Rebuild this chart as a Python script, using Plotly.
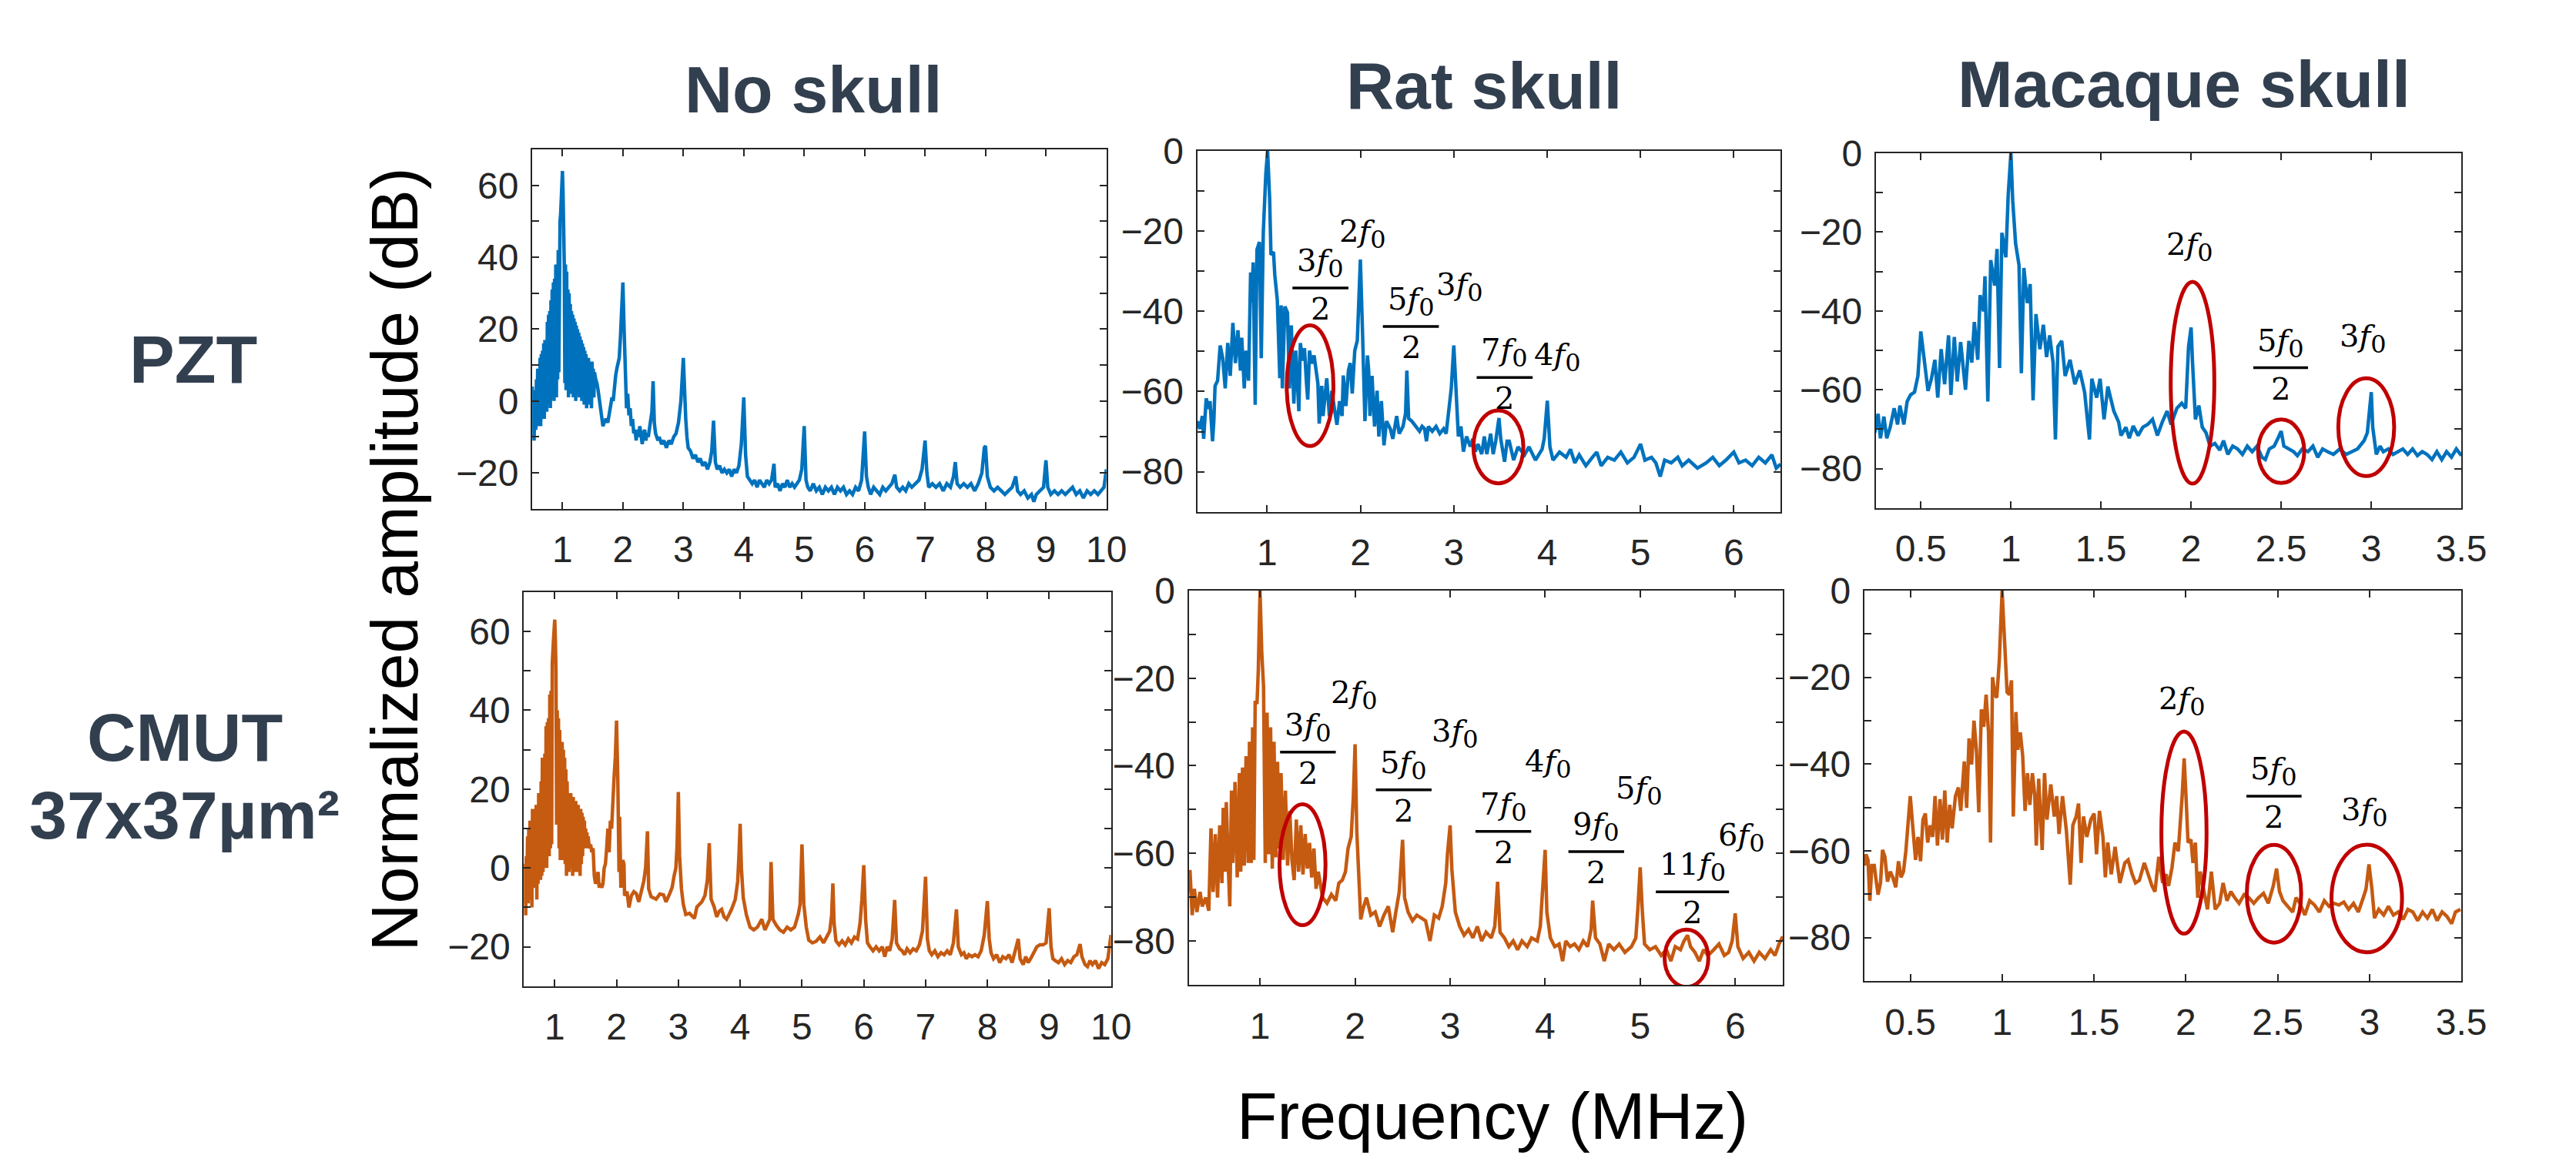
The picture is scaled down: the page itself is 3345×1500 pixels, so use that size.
import plotly.graph_objects as go

# ---------------- data ----------------
# Panel A: PZT, no skull
A_x = [0.50,0.51,0.52,0.53,0.54,
0.55,0.56,0.57,0.58,0.59,0.60,0.61,0.62,0.63,0.64,
0.65,0.66,0.67,0.68,0.69,0.70,0.71,0.72,0.73,0.74,
0.75,0.76,0.77,0.78,0.79,0.80,0.81,0.82,0.83,0.84,
0.85,0.86,0.87,0.88,0.89,0.90,0.91,0.92,0.93,0.94,
0.95,0.96,0.97,0.98,1.00,1.01,1.02,1.03,1.04,1.05,
1.06,1.07,1.08,1.09,1.10,1.11,1.12,1.13,1.14,1.15,
1.16,1.17,1.18,1.19,1.20,1.21,1.22,1.23,1.24,1.25,
1.26,1.27,1.28,1.29,1.30,1.31,1.32,1.33,1.34,1.35,
1.36,1.37,1.38,1.39,1.40,1.41,1.42,1.43,1.44,1.45,
1.46,1.47,1.48,1.49,1.50,1.51,1.52,1.53,1.55,1.57,
1.59,1.61,1.63,1.65,1.67,1.69,1.72,1.75,1.78,1.80,
1.82,1.84,1.86,1.88,1.90,1.92,1.94,1.96,1.98,2.00,
2.02,2.04,2.06,2.08,2.10,2.12,2.14,2.16,2.18,2.20,
2.22,2.24,2.26,2.28,2.30,2.32,2.34,2.36,2.38,2.40,
2.42,2.44,2.46,2.48,2.50,2.52,2.54,2.56,2.58,2.60,
2.64,2.68,2.72,2.76,2.80,2.84,2.88,2.92,2.96,3.00,
3.02,3.04,3.06,3.08,3.12,3.16,3.20,3.24,3.28,3.32,
3.36,3.40,3.44,3.47,3.50,3.53,3.56,3.60,3.64,3.68,
3.72,3.76,3.80,3.84,3.88,3.92,3.96,4.00,4.03,4.06,
4.10,4.14,4.18,4.22,4.26,4.30,4.34,4.38,4.42,4.46,
4.50,4.52,4.56,4.60,4.64,4.68,4.72,4.76,4.80,4.84,
4.88,4.92,4.96,5.00,5.03,5.06,5.10,5.15,5.20,5.25,
5.30,5.35,5.40,5.45,5.50,5.55,5.60,5.65,5.70,5.75,
5.80,5.85,5.90,5.95,6.00,6.03,6.06,6.10,6.15,6.20,
6.25,6.30,6.35,6.40,6.45,6.50,6.53,6.58,6.63,6.68,
6.73,6.78,6.84,6.90,6.95,7.00,7.03,7.06,7.12,7.18,
7.24,7.30,7.36,7.42,7.47,7.50,7.53,7.58,7.64,7.70,
7.76,7.82,7.88,7.94,7.98,8.00,8.03,8.08,8.14,8.20,
8.26,8.32,8.38,8.44,8.48,8.50,8.53,8.58,8.64,8.70,
8.76,8.80,8.84,8.90,8.96,9.00,9.03,9.08,9.14,9.20,
9.26,9.32,9.38,9.44,9.50,9.56,9.62,9.68,9.74,9.80,
9.86,9.92,9.96,10.0]
A_y = [4,-3,2,-11,-4,
3,-8,6,-6,9,-7,8,-4,12,-7,
13,-5,14,-3,16,-5,17,-2,16,-3,
22,-1,24,0,25,-2,28,1,31,2,
33,0,34,4,38,1,38,6,42,8,
40,50,52,58,64,58,50,38,5,38,
3,36,5,31,1,30,3,27,2,25,
4,24,1,23,2,22,0,21,2,20,
3,19,1,18,2,17,0,16,1,15,
-1,14,1,13,-2,12,0,12,-1,11,
2,10,-2,11,2,9,1,8,6,5,
3,0,-3,-5,-7,-6,-5,-6,-3,-1,
1,0,4,7,9,11,12,18,25,33,
20,6,-2,2,-4,-2,-7,-5,-9,-8,
-11,-8,-10,-7,-9,-12,-9,-8,-11,-9,
-10,-8,-6,-3,5.5,-6,-9,-10,-11,-10,
-12,-11,-13,-11,-12,-10,-9,-6,0,12,
2,-5,-10,-13,-14,-16,-15,-17,-16,-18,
-17,-19,-17,-14,-5.5,-17,-19,-18,-20,-19,
-20,-19,-21,-19,-20,-18,-12,1,-15,-21,
-22,-23,-22,-24,-22,-23,-24,-22,-23,-22,
-17.5,-24,-23,-25,-23,-24,-22,-24,-23,-24,
-23,-22,-19,-7,-22,-24,-25,-23,-25,-24,
-26,-24,-25,-24,-26,-24,-25,-24,-26,-25,
-26,-24,-25,-22,-8.5,-21,-24,-26,-24,-25,
-26,-24,-25,-24,-23,-20.5,-24,-25,-24,-25,
-23,-24,-23,-22,-19,-11,-20,-24,-23,-24,
-23,-25,-23,-24,-21,-17,-23,-24,-23,-24,
-23,-25,-23,-20,-13,-12.5,-21,-24,-25,-24,
-25,-26,-25,-24,-22,-21,-25,-26,-25,-27,
-26,-28,-26,-25,-24,-16.5,-24,-26,-25,-26,
-25,-26,-25,-24,-26,-25,-27,-25,-26,-25,
-26,-25,-24,-19]

# Panel B: PZT, rat skull
B_x = [0.252,0.279,0.306,0.320,0.347,0.374,0.388,0.415,0.429,0.442,
0.469,0.497,0.524,0.551,0.578,0.605,0.633,0.660,0.687,0.714,
0.728,0.755,0.774,0.801,0.823,0.837,0.850,0.872,0.891,0.918,
0.937,0.959,0.986,1.005,1.027,1.041,1.068,1.082,1.109,1.136,
1.150,1.163,1.190,1.218,1.239,1.259,1.286,1.307,1.340,1.356,
1.381,1.400,1.422,1.435,1.454,1.476,1.503,1.525,1.544,1.558,
1.585,1.599,1.639,1.667,1.694,1.721,1.748,1.776,1.803,1.816,
1.844,1.871,1.890,1.912,1.939,1.966,1.999,2.020,2.048,2.075,
2.088,2.102,2.124,2.151,2.178,2.197,2.224,2.252,2.279,2.320,
2.347,2.388,2.415,2.456,2.483,2.497,2.516,2.551,2.592,2.633,
2.660,2.687,2.707,2.728,2.769,2.810,2.850,2.891,2.918,2.946,
2.973,3.000,3.022,3.049,3.076,3.103,3.136,3.177,3.204,3.231,
3.259,3.299,3.327,3.354,3.395,3.422,3.449,3.484,3.503,3.544,
3.571,3.594,3.641,3.688,3.758,3.805,3.875,3.946,3.969,4.002,
4.030,4.063,4.133,4.204,4.250,4.297,4.344,4.415,4.485,4.532,
4.579,4.649,4.720,4.790,4.860,4.931,5.001,5.048,5.118,5.165,
5.212,5.259,5.329,5.400,5.447,5.517,5.611,5.704,5.775,5.845,
5.916,6.000,6.056,6.127,6.197,6.267,6.338,6.408,6.455,6.502]
B_y = [-67.4,-69.3,-66.1,-71.8,-61.7,-64.3,-62.4,-72.4,-67.4,-58.6,
-57.3,-48.5,-51.7,-59.2,-47.9,-56.1,-42.9,-52.9,-44.7,-54.8,
-46.6,-59.2,-49.8,-57.3,-30.3,-37.8,-27.8,-63.3,-24.6,-22.7,
-51.7,-20.2,-5.7,0,-12,-25.9,-25.2,-30.9,-37.2,-56.7,
-38.5,-59.2,-38.8,-40.3,-59.2,-43.5,-63,-49.8,-64.9,-47.9,
-52.3,-49.2,-58,-62,-49.8,-53,-51,-54.8,-58,-68,
-58.6,-66.1,-56.7,-66.1,-59.8,-64.3,-68.3,-62.4,-66.1,-56,
-63.6,-54.8,-52.9,-60.5,-49.8,-47.3,-27.1,-43.5,-67.4,-51,
-54.8,-66.1,-56.1,-68.7,-59.8,-71.2,-62.4,-73.4,-67.4,-69.3,
-71.8,-66.1,-70.5,-68.7,-65.5,-54.8,-66.7,-67.4,-68.7,-69.9,
-68.7,-69.3,-72.4,-68.7,-69.9,-68.7,-70.5,-69.3,-70.5,-64.9,
-59.2,-48.5,-59.2,-71.2,-68.7,-75,-71.2,-73.7,-71.8,-75,
-73.1,-75.6,-71.2,-75.6,-70.5,-75.6,-72.4,-66.6,-71.8,-77.5,
-72.4,-72.4,-77.1,-73.8,-75.8,-73.8,-77.1,-74.4,-71.7,-62.3,
-73.8,-77.1,-75.1,-76.4,-74.4,-77.8,-75.8,-78.5,-76.4,-75.1,
-78.5,-76.4,-77.1,-75.1,-77.8,-76.4,-73.1,-77.1,-76.4,-77.8,
-81.2,-77.1,-77.8,-76.4,-78.5,-77.1,-79.1,-77.8,-76.4,-78.5,
-77.1,-75.1,-77.8,-77.1,-78.5,-76.4,-77.8,-75.8,-79.1,-78.1]

# Panel C: PZT, macaque skull
C_x = [0.244,0.263,0.276,0.295,0.311,0.330,0.352,0.371,0.384,0.406,
0.424,0.443,0.465,0.484,0.500,0.519,0.540,0.559,0.578,0.594,
0.613,0.632,0.654,0.667,0.686,0.702,0.721,0.748,0.767,0.783,
0.797,0.816,0.829,0.848,0.856,0.872,0.888,0.910,0.923,0.937,
0.950,0.972,0.985,1.000,1.010,1.026,1.045,1.058,1.072,1.091,
1.107,1.123,1.139,1.161,1.180,1.198,1.215,1.234,1.247,1.261,
1.282,1.301,1.328,1.355,1.382,1.409,1.436,1.449,1.476,1.495,
1.517,1.538,1.557,1.571,1.598,1.611,1.638,1.657,1.679,1.706,
1.732,1.759,1.786,1.813,1.840,1.867,1.889,1.921,1.948,1.970,
1.986,2.000,2.008,2.024,2.043,2.062,2.083,2.105,2.132,2.159,
2.180,2.204,2.231,2.258,2.285,2.312,2.339,2.366,2.393,2.412,
2.434,2.461,2.482,2.500,2.515,2.542,2.569,2.590,2.617,2.649,
2.676,2.703,2.730,2.757,2.790,2.825,2.860,2.893,2.924,2.960,
2.978,3.000,3.008,3.028,3.049,3.067,3.094,3.121,3.148,3.175,
3.202,3.229,3.256,3.283,3.310,3.337,3.364,3.391,3.418,3.445,
3.472,3.500]
C_y = [-70.9,-66.1,-72.3,-66.8,-72.3,-69.5,-64.7,-68.8,-64,-68.8,
-63,-61.3,-60.6,-56.5,-45.2,-51.7,-60.3,-57.2,-52.4,-62,
-49.7,-58.6,-46.2,-61.3,-46.6,-57.9,-47.9,-60,-47.6,-53.1,
-42.8,-52.4,-36,-40.1,-31.2,-63,-27.1,-33.6,-24.3,-54.5,
-20.2,-26.4,-10.6,0,-12,-22.9,-28.4,-55.8,-29.1,-38,
-33.2,-62.7,-40.8,-49.7,-43.5,-51.7,-46.2,-53.1,-72.6,-49,
-47.6,-56.5,-52.4,-58.6,-55.1,-60.6,-72.6,-57.2,-62,-57.2,
-67.5,-59.2,-62.7,-65.4,-68.2,-71.6,-69.5,-72.3,-69.2,-71.6,
-69.5,-68.8,-67.5,-71.6,-68.2,-65.4,-68.8,-64.7,-63.4,-64.7,
-49,-44.2,-53.1,-67.5,-64,-69.5,-70.9,-74.3,-73.6,-75.3,
-72.9,-76.4,-74.3,-75,-76.4,-74.3,-75.7,-74.3,-77.1,-77.7,
-75,-74.3,-72.3,-70.5,-74.3,-75,-75.7,-76.7,-75,-75.7,
-74.3,-77.1,-75,-75.7,-76.4,-75,-76.4,-75.7,-75,-72.9,
-70.9,-60.6,-69.5,-76.4,-74.3,-75.7,-75,-76.4,-75.7,-75,
-76.4,-75,-76.7,-75.7,-76.4,-77.7,-75.7,-77.7,-75.7,-77.1,
-75,-76.7]

# Panel D: CMUT, no skull
D_x = [0.49,0.50,0.51,0.52,0.53,0.54,0.55,0.56,0.57,0.58,
0.59,0.60,0.61,0.62,0.63,0.64,0.65,0.66,0.67,0.68,
0.69,0.70,0.71,0.72,0.73,0.74,0.75,0.76,0.77,0.78,
0.79,0.80,0.81,0.82,0.83,0.84,0.85,0.86,0.87,0.88,
0.89,0.90,0.91,0.92,0.93,0.94,0.95,0.96,0.98,1.00,
1.01,1.02,1.03,1.04,1.05,1.06,1.07,1.08,1.09,1.10,
1.11,1.12,1.13,1.14,1.15,1.16,1.17,1.18,1.19,1.20,
1.21,1.22,1.23,1.24,1.25,1.26,1.27,1.28,1.29,1.30,
1.31,1.32,1.33,1.34,1.35,1.36,1.37,1.38,1.39,1.40,
1.41,1.42,1.43,1.44,1.45,1.46,1.47,1.48,1.49,1.50,
1.51,1.52,1.53,1.54,1.56,1.58,1.60,1.62,1.64,1.66,
1.68,1.70,1.72,1.74,1.76,1.78,1.80,1.82,1.84,1.86,
1.88,1.90,1.92,1.94,1.96,1.98,2.00,2.02,2.04,2.05,
2.07,2.10,2.12,2.13,2.17,2.20,2.24,2.28,2.32,2.36,
2.40,2.44,2.47,2.50,2.52,2.56,2.64,2.70,2.76,2.80,
2.86,2.90,2.93,2.96,2.98,3.00,3.02,3.05,3.08,3.12,
3.18,3.26,3.30,3.34,3.38,3.43,3.47,3.50,3.53,3.58,
3.62,3.66,3.70,3.74,3.78,3.82,3.86,3.92,3.96,3.98,
4.00,4.02,4.05,4.10,4.16,4.22,4.28,4.35,4.40,4.44,
4.48,4.50,4.53,4.58,4.64,4.70,4.76,4.82,4.88,4.94,
4.97,5.00,5.03,5.07,5.11,5.17,5.23,5.29,5.35,5.40,
5.45,5.48,5.50,5.52,5.55,5.60,5.65,5.70,5.75,5.80,
5.85,5.90,5.94,5.97,6.00,6.03,6.06,6.10,6.15,6.20,
6.25,6.30,6.34,6.38,6.42,6.46,6.50,6.53,6.58,6.62,
6.66,6.70,6.75,6.80,6.85,6.90,6.95,7.00,7.03,7.06,
7.10,7.15,7.20,7.25,7.30,7.35,7.40,7.45,7.50,7.53,
7.58,7.62,7.66,7.70,7.75,7.80,7.85,7.90,7.95,8.00,
8.03,8.06,8.10,8.15,8.20,8.25,8.30,8.35,8.40,8.45,
8.50,8.53,8.58,8.62,8.66,8.70,8.75,8.80,8.85,8.90,
8.95,9.00,9.03,9.06,9.10,9.15,9.20,9.25,9.30,9.35,
9.40,9.45,9.50,9.53,9.58,9.62,9.66,9.70,9.75,9.80,
9.85,9.90,9.95,9.97,10.0]
D_y = [-4,-4,-9,1,-12,3,-6,8,-9,10,
-8,12,-6,12,-10,15,-4,15,-5,15,
-3,16,-8,16,-4,19,-2,19,-3,22,
-2,28,-1,28,0,29,1,36,0,37,
3,38,3,44,5,45,6,52,58,63,
58,50,11,40,12,38,5,35,2,32,
6,32,2,30,4,28,1,25,-2,22,
2,19,-1,19,1,19,0,18,-2,18,
1,17,-1,17,2,16,-1,16,0,15,
-2,15,1,14,3,13,5,12,5,10,
6,9,5,8,5,6,4,5,-2,-4,
-3,-1,-5,-4,-5,-4,0,1,5,10,
4,12,10,18,23,28,37.4,23,-1,13,
-5,2,1,-7,-6,-10,-7,-6,-6.5,-8.6,
-6,-3.4,0,9.3,-5.3,-7.3,-7.9,-6.6,-6.8,-8.6,
-6.5,-4.9,-2.1,0,6,19.3,3,-5.3,-9.2,-11.8,
-11.5,-12.8,-9.9,-9.2,-8.6,-7,-3,6.3,-7.9,-9.9,
-12.4,-11,-10.5,-12.4,-13,-11.8,-10.5,-8,-3.4,3,
11.2,0,-7.5,-11.8,-15,-15.7,-15,-13,-15.7,-14.4,
-13,1.5,-13,-14.4,-15.7,-16.3,-15,-15.7,-15,-11.8,
-9.2,6,-9.2,-15,-18.3,-19,-18.6,-17.5,-19,-17.5,
-16,-12,-3.9,-14,-18.5,-19.5,-18.5,-19.5,-18,-19,
-17.5,-18,-14,-8,0.7,-13,-19,-20,-21,-20,
-21,-20,-22.5,-20,-21,-18,-8.1,-19,-20.5,-21,
-22,-20.5,-21.5,-20.5,-21,-19.5,-16,-2.2,-18,-21,
-22,-21,-22.5,-21.5,-22,-21,-22,-19,-10.5,-20,
-22,-21.5,-23,-22,-22.5,-22,-22.5,-21,-17,-8.4,
-18,-21.5,-23,-22,-24,-22.5,-23,-22,-24,-21,
-18,-23,-24.5,-22.5,-24,-23,-21.5,-20,-19.5,-19.5,
-19,-10.2,-20,-23,-23.5,-24,-23,-24.5,-23.5,-24,
-22.5,-22,-19.3,-22.5,-24.5,-25,-23.5,-24.5,-23.5,-25.5,
-24,-24.5,-23,-21,-17]

# Panel E: CMUT, rat skull
E_x = [0.244,0.263,0.286,0.309,0.336,0.369,0.392,0.429,0.461,0.484,
0.507,0.530,0.553,0.576,0.599,0.613,0.631,0.645,0.668,0.682,
0.700,0.714,0.737,0.760,0.783,0.797,0.816,0.834,0.853,0.876,
0.889,0.908,0.922,0.935,0.949,0.968,0.982,1.000,1.018,1.037,
1.055,1.074,1.092,1.111,1.129,1.147,1.166,1.184,1.203,1.221,
1.244,1.267,1.290,1.313,1.336,1.359,1.382,1.406,1.429,1.452,
1.475,1.498,1.521,1.544,1.567,1.590,1.613,1.659,1.705,1.751,
1.797,1.829,1.866,1.899,1.926,1.959,1.982,2.000,2.018,2.041,
2.060,2.083,2.120,2.166,2.212,2.258,2.304,2.350,2.396,2.429,
2.465,2.500,2.521,2.558,2.604,2.650,2.696,2.742,2.788,2.834,
2.880,2.917,2.954,2.972,3.000,3.018,3.055,3.101,3.147,3.194,
3.240,3.286,3.332,3.378,3.433,3.470,3.500,3.525,3.571,3.618,
3.664,3.710,3.756,3.811,3.857,3.917,3.949,3.968,4.000,4.018,
4.055,4.101,4.147,4.184,4.217,4.263,4.309,4.355,4.401,4.447,
4.484,4.500,4.530,4.576,4.622,4.668,4.724,4.779,4.839,4.908,
4.954,4.977,5.000,5.023,5.046,5.101,5.161,5.221,5.276,5.323,
5.369,5.424,5.461,5.498,5.530,5.576,5.622,5.668,5.714,5.774,
5.829,5.885,5.931,5.968,6.000,6.028,6.083,6.143,6.198,6.253,
6.313,6.373,6.419,6.461,6.500]
E_y = [-68.8,-63.8,-74.1,-68.1,-73.4,-68.8,-72.1,-70.1,-73.1,-54.3,
-68.8,-55.6,-70.1,-53.6,-66.8,-49.6,-64.2,-48.3,-64.2,-72.1,
-45.7,-62.2,-43.7,-65.5,-41.7,-64.2,-40.4,-62.8,-37.8,-62.2,
-34.5,-62.2,-31.2,-61.5,-25.2,-25.9,-18,0,-14,-21.9,
-62.2,-27.9,-60.2,-31.2,-63.5,-34.5,-60.9,-39.1,-58.9,-41.7,
-61.5,-45.7,-62.8,-50.3,-61.5,-66.1,-52.3,-64.2,-53.6,-64.8,
-55.6,-63.5,-57.6,-65.5,-58.9,-68.1,-64.2,-70.1,-71.4,-69.4,
-70.8,-66.8,-66.1,-64.2,-58.9,-56.2,-47,-35.1,-54.9,-66.8,
-75.1,-72.7,-70.1,-74.1,-73.4,-76.7,-74.1,-72.1,-78,-73.4,
-68.8,-56.9,-70.1,-73.4,-75.4,-74.1,-74.8,-75.4,-80,-74.1,
-74.8,-72.1,-66.8,-60.2,-53.6,-63.5,-73.4,-76.7,-78.7,-77.4,
-79.3,-76.7,-80,-78,-79.3,-76.7,-66.5,-78,-79.3,-81.3,
-80,-82,-80,-81.3,-79.3,-80,-76.7,-70.1,-59.2,-73.4,
-79.3,-81.3,-80.7,-84.6,-80,-81.3,-80.7,-82,-80,-81.3,
-77.4,-70.8,-79.3,-80.7,-84.6,-80.7,-82,-80.7,-82.6,-81.3,
-79.3,-72.1,-63.2,-73.4,-80.7,-82,-81.3,-83.3,-82,-84.6,
-81.3,-82,-80,-78.7,-81.3,-82.6,-84.6,-82,-83.3,-82,
-80.7,-83.3,-82.6,-80,-73.7,-81.3,-84,-82.6,-84.6,-82.6,
-84,-82,-83.3,-80.7,-79]

# Panel F: CMUT, macaque skull
F_x = [0.251,0.259,0.270,0.280,0.291,0.304,0.312,0.325,0.338,0.349,
0.362,0.376,0.391,0.405,0.421,0.436,0.450,0.463,0.476,0.489,
0.500,0.513,0.529,0.542,0.556,0.569,0.582,0.595,0.609,0.622,
0.635,0.648,0.662,0.675,0.688,0.701,0.715,0.728,0.746,0.762,
0.775,0.794,0.807,0.820,0.834,0.847,0.860,0.873,0.887,0.900,
0.913,0.926,0.937,0.948,0.961,0.971,0.985,1.000,1.014,1.027,
1.040,1.051,1.061,1.075,1.085,1.099,1.112,1.125,1.138,1.151,
1.165,1.178,1.186,1.199,1.218,1.231,1.244,1.265,1.284,1.297,
1.310,1.329,1.350,1.371,1.385,1.403,1.416,1.430,1.443,1.461,
1.483,1.501,1.514,1.530,1.549,1.562,1.575,1.594,1.615,1.641,
1.668,1.686,1.708,1.726,1.747,1.774,1.795,1.816,1.832,1.853,
1.874,1.893,1.906,1.925,1.941,1.959,1.980,1.991,2.001,2.012,
2.028,2.039,2.052,2.065,2.078,2.097,2.118,2.139,2.160,2.184,
2.203,2.224,2.245,2.266,2.290,2.317,2.343,2.370,2.396,2.423,
2.449,2.476,2.494,2.510,2.529,2.555,2.582,2.600,2.621,2.648,
2.674,2.701,2.727,2.754,2.780,2.807,2.833,2.860,2.886,2.913,
2.939,2.966,2.981,2.997,3.013,3.027,3.050,3.077,3.103,3.130,
3.156,3.183,3.209,3.236,3.262,3.289,3.315,3.342,3.368,3.395,
3.421,3.447,3.468,3.495]
F_y = [-63.4,-60.8,-62.1,-71.5,-63.4,-63.4,-66.1,-70.1,-67.4,-59.8,
-61.4,-67.1,-64.8,-66.1,-68.4,-62.4,-66.1,-64.8,-60.1,-52.8,
-47.4,-54.1,-62.1,-56.8,-62.4,-52.8,-51.4,-58.1,-54.1,-56.8,
-47.4,-58.8,-48.1,-57.4,-46.1,-58.1,-49.4,-54.8,-47.4,-45.4,
-50.8,-39.4,-50.1,-34.1,-40.1,-30,-36.7,-51.1,-27.4,-31.4,
-24,-32.7,-58.1,-20,-24,-24.7,-16,0,-12.7,-23.4,
-24,-20.7,-52.1,-28,-36.7,-32.7,-38.1,-50.8,-42.1,-49.4,
-42.1,-47.4,-58.8,-43.4,-59.8,-42.1,-52.8,-44.7,-52.1,-47.4,
-56.1,-47.4,-55.4,-67.8,-54.1,-52.1,-49.1,-62.8,-52.1,-56.8,
-52.8,-51.4,-60.8,-50.8,-56.8,-66.1,-58.1,-65.4,-59.1,-67.4,
-62.8,-62.1,-65.4,-67.4,-66.8,-62.8,-65.4,-68.1,-69.4,-61.4,
-67.4,-65.4,-68.1,-63.8,-58.1,-60.1,-47.4,-38.7,-47.4,-58.1,
-57.4,-62.8,-58.1,-70.8,-64.8,-68.8,-73.5,-64.8,-73.5,-72.1,
-67.4,-71.5,-69.4,-70.8,-72.1,-70.1,-70.8,-72.1,-70.8,-69.8,
-72.1,-68.1,-64.1,-69.4,-71.5,-72.8,-74.1,-70.8,-72.1,-74.8,
-71.5,-72.5,-74.1,-71.5,-72.8,-72.1,-72.5,-71.8,-73.5,-72.1,
-74.1,-70.8,-68.8,-63.1,-68.8,-75.5,-73.5,-74.8,-72.8,-74.8,
-74.1,-75.8,-73.5,-74.1,-76.1,-74.1,-75.5,-73.5,-76.1,-74.1,
-75.1,-76.8,-74.1,-73.5]

col_titles = ["No skull", "Rat skull", "Macaque skull"]
row_titles = ["PZT", "CMUT", "37x37µm²"]
y_title = "Normalized amplitude (dB)"
x_title = "Frequency (MHz)"

# harmonic labels: (panel, x, y, coefficient)
single_labels = [
    (2, 2.02, -19.8, "2"), (2, 3.06, -33.2, "3"), (2, 4.11, -50.5, "4"),
    (3, 1.994, -23.0, "2"), (3, 2.956, -46.1, "3"),
    (5, 1.988, -23.1, "2"), (5, 3.05, -32.0, "3"), (5, 4.03, -38.7, "4"),
    (5, 4.99, -44.9, "5"), (5, 6.07, -55.6, "6"),
    (6, 1.98, -24.7, "2"), (6, 2.972, -50.4, "3"),
]
# fractions: (panel, bar centre x, bar y, numerator coefficient, half width of bar)
fraction_labels = [
    (2, 1.571, -34.2, "3", 0.30), (2, 2.54, -43.8, "5", 0.30), (2, 3.545, -56.5, "7", 0.30),
    (3, 2.497, -54.4, "5", 0.152),
    (5, 1.504, -36.9, "3", 0.293), (5, 2.512, -45.5, "5", 0.293), (5, 3.56, -55.0, "7", 0.293),
    (5, 4.538, -59.6, "9", 0.293), (5, 5.55, -68.8, "11", 0.385),
    (6, 2.48, -47.4, "5", 0.15),
]
# ellipses: (panel, x0, x1, y0, y1)
ellipses = [
    (2, 1.21, 1.71, -73.6, -43.5), (2, 3.21, 3.745, -82.9, -64.7),
    (3, 1.887, 2.129, -83.8, -32.6), (3, 2.372, 2.628, -83.65, -67.55), (3, 2.817, 3.127, -81.9, -57.1),
    (5, 1.205, 1.689, -76.4, -48.8), (5, 5.257, 5.717, -90.5, -77.4),
    (6, 1.867, 2.113, -79.1, -32.5), (6, 2.332, 2.628, -81.15, -58.65), (6, 2.793, 3.177, -83.4, -58.6),
]

# ---------------- style / layout ----------------
W, H = 3345, 1500
BLUE = "#0072BD"
ORANGE = "#C55A11"
RED = "#C00000"
AXC = "#262626"
TITLE_C = "#323F4F"
SANS = "Liberation Sans, Arial, sans-serif"
SERIF = "DejaVu Serif, serif"

# pixel boxes of each panel: (x0, x1), (ytop, ybottom)
boxes = {
    1: ((698, 1451), (171, 646)),
    2: ((1570, 2335), (173, 650)),
    3: ((2460, 3228), (176, 645)),
    4: ((687, 1457), (756, 1277)),
    5: ((1559, 2338), (754, 1275)),
    6: ((2445, 3228), (754, 1270)),
}
panels = {1: (A_x, A_y, BLUE), 2: (B_x, B_y, BLUE), 3: (C_x, C_y, BLUE),
          4: (D_x, D_y, ORANGE), 5: (E_x, E_y, ORANGE), 6: (F_x, F_y, ORANGE)}
xranges = {1: [0.5, 10], 4: [0.5, 10], 2: [0.25, 6.5], 5: [0.25, 6.5], 3: [0.25, 3.5], 6: [0.25, 3.5]}
yranges = {1: [-30, 70], 4: [-30, 70], 2: [-90, 0], 3: [-90, 0], 5: [-90, 0], 6: [-90, 0]}
xdt = {1: 1, 4: 1, 2: 1, 5: 1, 3: 0.5, 6: 0.5}


def ax_id(n, letter):
    return letter if n == 1 else f"{letter}{n}"


fig = go.Figure()
layout = dict(width=W, height=H, margin=dict(l=0, r=0, t=0, b=0),
              paper_bgcolor="white", plot_bgcolor="white", showlegend=False)

for n, (xs, ys, col) in panels.items():
    m = min(len(xs), len(ys))
    fig.add_trace(go.Scatter(x=xs[:m], y=ys[:m], mode="lines",
                             line=dict(color=col, width=4.5),
                             xaxis=ax_id(n, "x"), yaxis=ax_id(n, "y"),
                             hoverinfo="skip"))
    (px0, px1), (pyt, pyb) = boxes[n]
    common = dict(showgrid=False, zeroline=False, showline=True, mirror="allticks",
                  linecolor=AXC, linewidth=2, ticks="inside", ticklen=9, tickwidth=2,
                  tickcolor=AXC, tickfont=dict(family=SANS, size=48, color=AXC))
    xa = dict(common, domain=[px0 / W, px1 / W], range=xranges[n], dtick=xdt[n], tick0=0,
              anchor=ax_id(n, "y"), ticklabelstandoff=10)
    ya = dict(common, domain=[1 - pyb / H, 1 - pyt / H], range=yranges[n], dtick=20, tick0=0,
              anchor=ax_id(n, "x"), ticklabelstandoff=6,
              minor=dict(dtick=10, tick0=0, ticks="inside", ticklen=9, tickwidth=2, tickcolor=AXC))
    layout["xaxis" if n == 1 else f"xaxis{n}"] = xa
    layout["yaxis" if n == 1 else f"yaxis{n}"] = ya

ann = []
shapes = []


def paper_text(xp, yp, text, size, color, bold=False, angle=0):
    ann.append(dict(xref="paper", yref="paper", x=xp / W, y=1 - yp / H,
                    text=f"<b>{text}</b>" if bold else text, showarrow=False,
                    xanchor="center", yanchor="middle", textangle=angle,
                    font=dict(family=SANS, size=size, color=color)))


paper_text(1067, 92, col_titles[0], 86, TITLE_C, bold=True)
paper_text(1946, 86, col_titles[1], 86, TITLE_C, bold=True)
paper_text(2864, 84, col_titles[2], 86, TITLE_C, bold=True)
paper_text(254, 448, row_titles[0], 88, TITLE_C, bold=True)
paper_text(242, 948, row_titles[1], 88, TITLE_C, bold=True)
paper_text(242, 1051, row_titles[2], 88, TITLE_C, bold=True)
paper_text(517, 713, y_title, 86, "black", angle=-90)
paper_text(1957, 1448, x_title, 86, "black")

LFONT = dict(family=SERIF, size=40, color="black")


def ftxt(c):
    return f"{c}<i>f</i><sub><span style='font-size:32px'>0</span></sub>"


for (n, x, y, c) in single_labels:
    ann.append(dict(xref=ax_id(n, "x"), yref=ax_id(n, "y"), x=x, y=y, text=ftxt(c),
                    showarrow=False, xanchor="center", yanchor="middle", yshift=-4, font=LFONT))

for (n, x, y, c, hw) in fraction_labels:
    ann.append(dict(xref=ax_id(n, "x"), yref=ax_id(n, "y"), x=x, y=y, text=ftxt(c),
                    showarrow=False, xanchor="center", yanchor="bottom", yshift=4, font=LFONT))
    ann.append(dict(xref=ax_id(n, "x"), yref=ax_id(n, "y"), x=x, y=y, text="2",
                    showarrow=False, xanchor="center", yanchor="top", yshift=-2, font=LFONT))
    shapes.append(dict(type="line", xref=ax_id(n, "x"), yref=ax_id(n, "y"),
                       x0=x - hw, x1=x + hw, y0=y, y1=y, line=dict(color="black", width=3.5)))

for (n, x0, x1, y0, y1) in ellipses:
    shapes.append(dict(type="circle", xref=ax_id(n, "x"), yref=ax_id(n, "y"),
                       x0=x0, x1=x1, y0=y0, y1=y1, line=dict(color=RED, width=5)))

layout["annotations"] = ann
layout["shapes"] = shapes
fig.update_layout(**layout)
fig.write_html("out.html")
